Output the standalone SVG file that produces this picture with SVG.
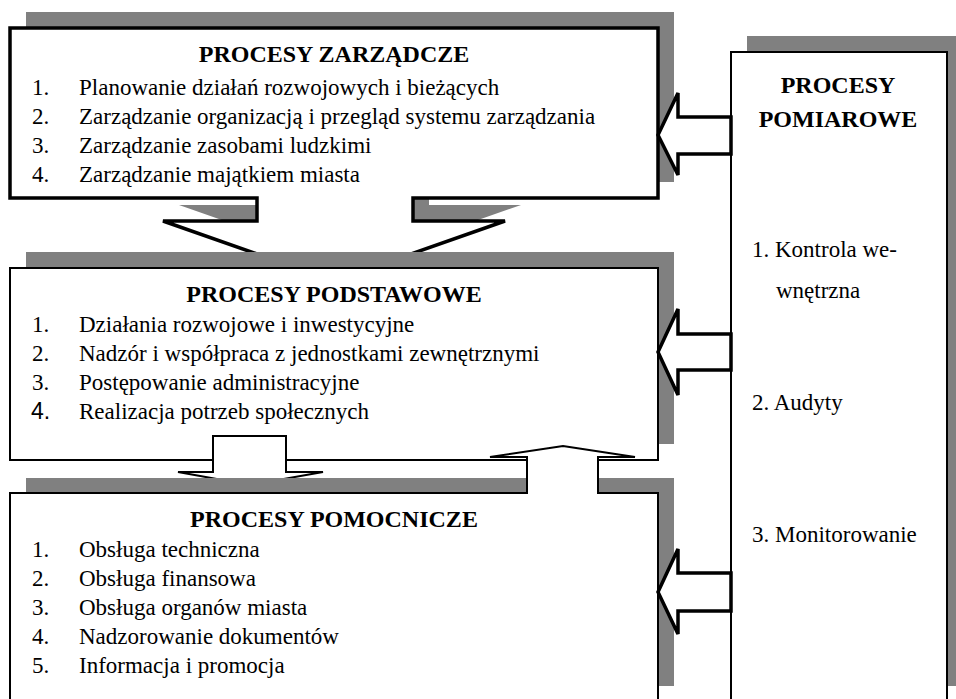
<svg xmlns="http://www.w3.org/2000/svg" width="956" height="699" viewBox="0 0 956 699">
<style>
.sh{fill:#808080;stroke:none}
.thick{fill:#fff;stroke:#000;stroke-width:3.5;stroke-linejoin:miter}
.thin{fill:#fff;stroke:#000;stroke-width:2}
.t{font-family:"Liberation Serif","Times New Roman",serif;font-size:23px;fill:#000}
.h{font-family:"Liberation Serif","Times New Roman",serif;font-size:24px;font-weight:bold;fill:#000;text-anchor:middle}
.s{font-family:"Liberation Sans",Arial,sans-serif;font-size:23px;fill:#000}
</style>
<rect width="956" height="699" fill="#fff"/>

<g id="pomiarowe">
<rect class="sh" x="747" y="36" width="220" height="650"/>
<rect class="thin" x="731" y="52" width="216" height="660"/>
<text class="h" x="838" y="93">PROCESY</text>
<text class="h" x="838" y="127">POMIAROWE</text>
<text class="t" x="752" y="257">1. Kontrola we-</text>
<text class="t" x="776" y="298">wnętrzna</text>
<text class="t" x="752" y="410">2. Audyty</text>
<text class="t" x="752" y="542">3. Monitorowanie</text>
</g>

<g id="zarzadcze">
<path class="sh" transform="translate(16,-16)" d="M10,28 H658 V198 H413 V221 H505 L334,281 L163,221 H257 V198 H10 Z"/>
<path class="thick" d="M10,28 H658 V198 H413 V221 H505 L334,281 L163,221 H257 V198 H10 Z"/>
<text class="h" x="334" y="62">PROCESY ZARZĄDCZE</text>
<text class="t" x="32" y="95">1.</text><text class="t" x="79" y="95">Planowanie działań rozwojowych i bieżących</text>
<text class="t" x="32" y="124">2.</text><text class="t" x="79" y="124">Zarządzanie organizacją i przegląd systemu zarządzania</text>
<text class="t" x="32" y="153">3.</text><text class="t" x="79" y="153">Zarządzanie zasobami ludzkimi</text>
<text class="t" x="32" y="182">4.</text><text class="t" x="79" y="182">Zarządzanie majątkiem miasta</text>
</g>

<g id="podstawowe">
<rect class="sh" x="26" y="252" width="648" height="192"/>
<rect class="thin" x="10" y="268" width="648" height="192"/>
<text class="h" x="334" y="302">PROCESY PODSTAWOWE</text>
<text class="t" x="32" y="332">1.</text><text class="t" x="79" y="332">Działania rozwojowe i inwestycyjne</text>
<text class="t" x="32" y="361">2.</text><text class="t" x="79" y="361">Nadzór i współpraca z jednostkami zewnętrznymi</text>
<text class="t" x="32" y="390">3.</text><text class="t" x="79" y="390">Postępowanie administracyjne</text>
<text class="s" x="31" y="419">4.</text><text class="t" x="79" y="419">Realizacja potrzeb społecznych</text>
</g>

<g id="connectors">
<path class="thin" d="M213,436 H286 V472 H323 L250,485 L178,472 H213 Z"/>
</g>

<g id="pomocnicze">
<rect class="sh" x="26" y="478" width="648" height="208"/>
<rect class="thin" x="10" y="493" width="648" height="220"/>
<text class="h" x="334" y="527">PROCESY POMOCNICZE</text>
<text class="t" x="32" y="557">1.</text><text class="t" x="79" y="557">Obsługa techniczna</text>
<text class="t" x="32" y="586">2.</text><text class="t" x="79" y="586">Obsługa finansowa</text>
<text class="t" x="32" y="615">3.</text><text class="t" x="79" y="615">Obsługa organów miasta</text>
<text class="t" x="32" y="644">4.</text><text class="t" x="79" y="644">Nadzorowanie dokumentów</text>
<text class="t" x="32" y="673">5.</text><text class="t" x="79" y="673">Informacja i promocja</text>
</g>

<g id="connectors-2">
<path d="M527,494 V457 H490 L563,446 L635,457 H598 V494 Z" fill="#fff" stroke="none"/>
<path d="M527,494 V457 H490 L563,446 L635,457 H598 V494" fill="none" stroke="#000" stroke-width="2"/>
<path class="thick" d="M658,135 L678,93 V117 H731 V154 H678 V175 Z"/>
<path class="thick" d="M658,352 L678,309 V334 H731 V370 H678 V395 Z"/>
<path class="thick" d="M658,592 L678,549 V573 H731 V611 H678 V634 Z"/>
</g>
</svg>
